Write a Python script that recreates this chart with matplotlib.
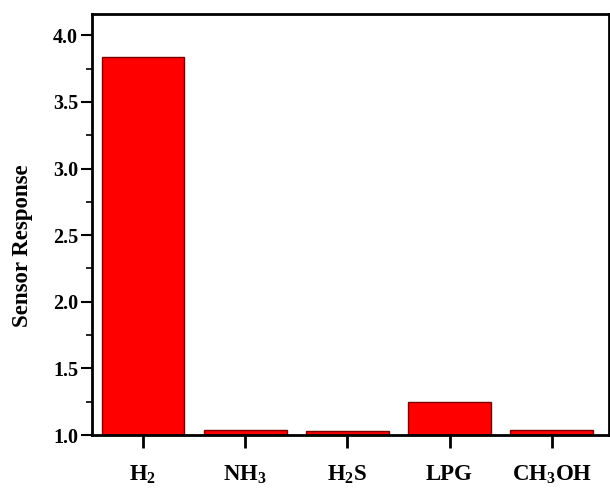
import matplotlib
matplotlib.use("Agg")
import matplotlib.pyplot as plt
from matplotlib.ticker import MultipleLocator

gases = ["H$_2$", "NH$_3$", "H$_2$S", "LPG", "CH$_3$OH"]
response = [3.84, 1.04, 1.03, 1.25, 1.04]

plt.rcParams["font.family"] = ["Liberation Serif", "DejaVu Serif"]
plt.rcParams["font.weight"] = "bold"
plt.rcParams["mathtext.fontset"] = "custom"
plt.rcParams["mathtext.rm"] = "Liberation Serif:bold"
plt.rcParams["mathtext.it"] = "Liberation Serif:bold"
plt.rcParams["mathtext.bf"] = "Liberation Serif:bold"
plt.rcParams["mathtext.default"] = "rm"

fig = plt.figure(figsize=(6.1, 4.9), dpi=100)
ax = fig.add_axes([92/610, 1-435/490, (609-92)/610, (435-14)/490])

x = list(range(len(gases)))
ax.bar(x, [r - 1.0 for r in response], bottom=1.0, width=0.81,
       color="#ff0000", edgecolor="#7a0000", linewidth=1.0)

ax.set_xlim(-0.5, 4.56)
ax.set_ylim(1.0, 4.16)
ax.yaxis.set_minor_locator(MultipleLocator(0.25))
ax.set_yticks([1.0, 1.5, 2.0, 2.5, 3.0, 3.5, 4.0])
ax.set_yticklabels(["1.0", "1.5", "2.0", "2.5", "3.0", "3.5", "4.0"], fontsize=14.5, fontweight="bold")
ax.set_xticks(x)
ax.set_xticklabels(gases, fontsize=16.5, fontweight="bold")
ax.tick_params(axis="x", direction="out", length=9, width=2, pad=12)
ax.tick_params(axis="y", which="major", direction="out", length=8, width=1.5, pad=2)
ax.tick_params(axis="y", which="minor", direction="out", length=4, width=1.2)
ax.set_ylabel("Sensor Response", fontsize=16.5, fontweight="bold")
ax.yaxis.set_label_coords(-0.114, 0.449)
for s in ax.spines.values():
    s.set_linewidth(2)

fig.savefig("out.png", dpi=100)
